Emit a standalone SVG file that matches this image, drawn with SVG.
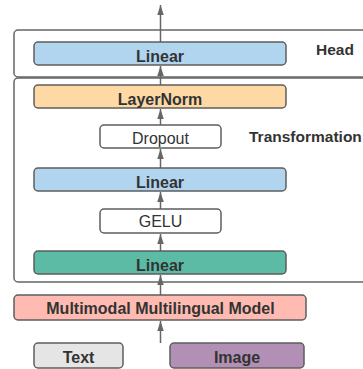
<svg xmlns="http://www.w3.org/2000/svg" width="363" height="369" viewBox="0 0 363 369">
<style>
.box{stroke:#5e5e5e;stroke-width:1.5}
.cont{fill:#ffffff;stroke:#666666;stroke-width:1.5}
.t{font-family:"Liberation Sans",Arial,sans-serif;font-size:16px;fill:#333333;text-anchor:middle}
.b{font-weight:bold}
.lbl{font-family:"Liberation Sans",Arial,sans-serif;font-size:15.5px;font-weight:bold;fill:#333333}
.arr{stroke:#666666;stroke-width:1.5;fill:none;marker-end:url(#ah)}
</style>
<defs>
<marker id="ah" viewBox="0 0 10 10" refX="10" refY="5" markerWidth="10" markerHeight="6.5" markerUnits="userSpaceOnUse" orient="auto" preserveAspectRatio="none">
<path d="M0,0 L10,5 L0,10 z" fill="#666666"/>
</marker>
</defs>
<g id="head-container">
<rect class="cont" x="14" y="30" width="380" height="47" rx="4"/>
<text class="lbl" x="316" y="55">Head</text>
</g>
<g id="transformation-container">
<rect class="cont" x="14" y="78" width="380" height="204" rx="4"/>
<text class="lbl" x="249" y="142">Transformation</text>
</g>
<g id="connectors">
<line class="arr" x1="160.5" y1="42" x2="160.5" y2="5"/>
<line class="arr" x1="160.5" y1="85" x2="160.5" y2="66"/>
<line class="arr" x1="160.5" y1="125" x2="160.5" y2="109"/>
<line class="arr" x1="160.5" y1="168" x2="160.5" y2="149"/>
<line class="arr" x1="160.5" y1="209" x2="160.5" y2="192"/>
<line class="arr" x1="160.5" y1="251" x2="160.5" y2="234"/>
<line class="arr" x1="160.5" y1="295" x2="160.5" y2="275"/>
<line class="arr" x1="160.5" y1="343" x2="160.5" y2="321"/>
</g>
<g id="head-linear">
<rect class="box" x="34" y="42" width="252" height="23" rx="4" fill="#b1d4ef"/>
<text class="t b" x="160" y="62">Linear</text>
</g>
<g id="layernorm">
<rect class="box" x="34" y="85" width="252" height="23" rx="4" fill="#fed9a6"/>
<text class="t b" x="160" y="105">LayerNorm</text>
</g>
<g id="dropout">
<rect class="box" x="100" y="125" width="121" height="23" rx="4" fill="#ffffff"/>
<text class="t" x="160.5" y="144">Dropout</text>
</g>
<g id="linear-2">
<rect class="box" x="34" y="168" width="252" height="23" rx="4" fill="#b1d4ef"/>
<text class="t b" x="160" y="188">Linear</text>
</g>
<g id="gelu">
<rect class="box" x="100" y="209" width="121" height="24" rx="4" fill="#ffffff"/>
<text class="t" x="160.5" y="227">GELU</text>
</g>
<g id="linear-3">
<rect class="box" x="34" y="251" width="252" height="23" rx="4" fill="#5bbba4"/>
<text class="t b" x="160" y="271">Linear</text>
</g>
<g id="mmm">
<rect class="box" x="14" y="295" width="292" height="25" rx="4" fill="#ffbbb1"/>
<text class="t b" x="160.5" y="314">Multimodal Multilingual Model</text>
</g>
<g id="text-input">
<rect class="box" x="34" y="343" width="89" height="25" rx="4" fill="#e5e5e5"/>
<text class="t b" x="78.5" y="363">Text</text>
</g>
<g id="image-input">
<rect class="box" x="170" y="343" width="134" height="25" rx="4" fill="#b28fb5"/>
<text class="t b" x="237" y="363">Image</text>
</g>
</svg>
